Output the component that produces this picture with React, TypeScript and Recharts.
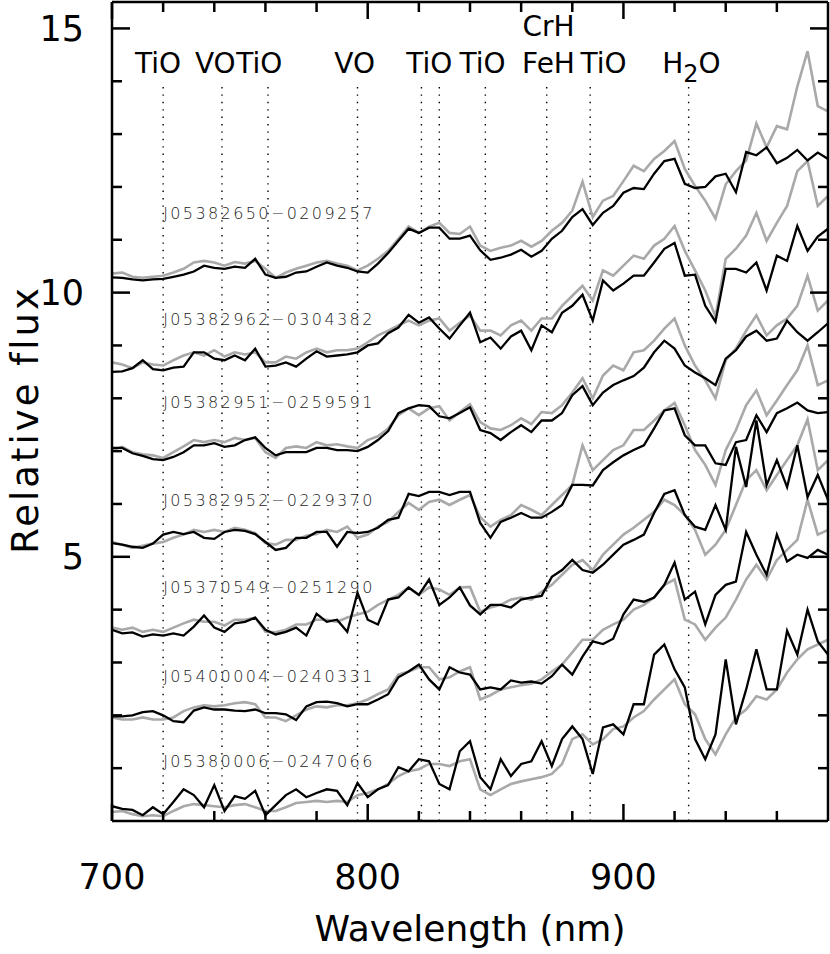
import React from 'react';
import { LineChart, Line, XAxis, YAxis, ReferenceLine, ReferenceDot } from 'recharts';

const FONT = '"DejaVu Sans", sans-serif';

const wavelengths = [
  700, 704, 708, 712, 716, 720, 724, 728, 732, 736,
  740, 744, 748, 752, 756, 760, 764, 768, 772, 776,
  780, 784, 788, 792, 796, 800, 804, 808, 812, 816,
  820, 824, 828, 832, 836, 840, 844, 848, 852, 856,
  860, 864, 868, 872, 876, 880, 884, 888, 892, 896,
  900, 904, 908, 912, 916, 920, 924, 928, 932, 936,
  940, 944, 948, 952, 956, 960, 964, 968, 972, 976, 980,
];

// J05382650-0209257
const s1Black = [
  10.29, 10.28, 10.25, 10.23, 10.25, 10.26, 10.30, 10.34, 10.40, 10.51,
  10.47, 10.45, 10.49, 10.47, 10.64, 10.34, 10.28, 10.30, 10.38, 10.40,
  10.49, 10.57, 10.51, 10.47, 10.40, 10.38, 10.55, 10.75, 10.98, 11.21,
  11.13, 11.23, 11.23, 11.02, 11.02, 11.08, 10.80, 10.62, 10.66, 10.72,
  10.81, 10.68, 10.79, 11.02, 11.17, 11.43, 11.58, 11.28, 11.51, 11.64,
  11.89, 11.98, 11.96, 12.25, 12.49, 12.53, 12.06, 11.98, 12.00, 12.20,
  12.25, 11.90, 12.66, 12.60, 12.75, 12.45, 12.55, 12.70, 12.50, 12.65, 12.53,
];
const s1Gray = [
  10.36, 10.38, 10.30, 10.28, 10.30, 10.32, 10.38, 10.45, 10.57, 10.60,
  10.57, 10.51, 10.58, 10.55, 10.60, 10.45, 10.28, 10.38, 10.45, 10.51,
  10.57, 10.60, 10.55, 10.51, 10.42, 10.51, 10.64, 10.79, 11.02, 11.25,
  11.13, 11.25, 11.32, 11.13, 11.11, 11.25, 10.89, 10.79, 10.85, 10.89,
  10.98, 10.87, 10.98, 11.17, 11.32, 11.55, 12.10, 11.43, 11.74, 11.83,
  12.11, 12.40, 12.30, 12.53, 12.68, 12.87, 12.34, 12.02, 11.74, 11.40,
  12.05, 12.30, 12.50, 13.20, 12.75, 13.15, 13.09, 13.90, 14.57, 13.53, 13.43,
];
// J05382962-0304382
const s2Black = [
  8.50, 8.51, 8.57, 8.72, 8.55, 8.53, 8.58, 8.60, 8.87, 8.87,
  8.75, 8.72, 8.81, 8.72, 8.94, 8.60, 8.62, 8.68, 8.60, 8.75,
  8.89, 8.79, 8.81, 8.83, 8.87, 9.00, 9.04, 9.23, 9.34, 9.58,
  9.43, 9.53, 9.32, 9.13, 9.38, 9.62, 9.06, 9.15, 8.94, 9.17,
  9.28, 8.91, 9.38, 9.25, 9.62, 9.75, 9.96, 9.47, 10.23, 10.04,
  10.17, 10.32, 10.32, 10.57, 10.83, 10.94, 10.32, 10.34, 9.75, 9.45,
  10.45, 10.45, 10.38, 10.57, 10.04, 10.70, 10.60, 11.26, 10.79, 11.06, 11.21,
];
const s2Gray = [
  8.68, 8.64, 8.57, 8.68, 8.64, 8.62, 8.72, 8.81, 8.87, 8.81,
  8.91, 8.79, 8.87, 8.83, 8.87, 8.68, 8.68, 8.79, 8.75, 8.87,
  8.94, 8.87, 8.91, 8.91, 8.94, 9.06, 9.19, 9.28, 9.38, 9.47,
  9.38, 9.47, 9.51, 9.28, 9.43, 9.57, 9.28, 9.28, 9.19, 9.38,
  9.47, 9.28, 9.51, 9.51, 9.75, 9.94, 10.13, 9.85, 10.42, 10.32,
  10.51, 10.70, 10.64, 10.89, 11.02, 11.26, 10.79, 10.42, 10.04, 9.55,
  10.64, 10.83, 11.08, 11.51, 10.98, 11.32, 11.64, 12.30, 12.49, 11.64, 11.83,
];
// J05382951-0259591
const s3Black = [
  7.06, 7.06, 6.96, 6.91, 6.85, 6.83, 6.89, 6.98, 7.11, 7.11,
  7.15, 7.08, 7.11, 7.21, 7.26, 7.06, 6.92, 6.98, 6.98, 6.98,
  7.06, 7.06, 7.02, 7.02, 7.00, 7.08, 7.21, 7.38, 7.72, 7.81,
  7.87, 7.85, 7.66, 7.62, 7.72, 7.83, 7.40, 7.34, 7.21, 7.36,
  7.49, 7.36, 7.58, 7.58, 7.72, 8.06, 8.23, 7.87, 8.11, 8.25,
  8.34, 8.42, 8.58, 8.87, 9.09, 8.94, 8.62, 8.49, 8.38, 8.25,
  8.75, 8.91, 9.17, 9.28, 9.09, 9.13, 9.47, 9.25, 9.09, 9.25, 9.42,
];
const s3Gray = [
  7.02, 7.08, 6.98, 6.94, 6.92, 6.87, 6.98, 7.09, 7.21, 7.17,
  7.21, 7.17, 7.25, 7.21, 7.25, 6.98, 6.87, 7.06, 7.09, 7.06,
  7.17, 7.11, 7.13, 7.09, 7.06, 7.21, 7.28, 7.43, 7.68, 7.81,
  7.68, 7.81, 7.85, 7.58, 7.74, 7.89, 7.55, 7.43, 7.40, 7.49,
  7.62, 7.51, 7.74, 7.72, 7.87, 8.11, 8.38, 8.00, 8.43, 8.62,
  8.53, 8.87, 8.91, 9.09, 9.32, 9.51, 9.00, 8.62, 8.34, 8.00,
  8.72, 8.94, 9.28, 9.57, 9.19, 9.38, 9.51, 9.75, 10.32, 9.66, 9.85,
];
// J05382952-0229370
const s4Black = [
  5.26, 5.23, 5.19, 5.17, 5.25, 5.42, 5.47, 5.43, 5.47, 5.36,
  5.34, 5.47, 5.51, 5.49, 5.43, 5.28, 5.13, 5.17, 5.36, 5.36,
  5.47, 5.47, 5.19, 5.47, 5.45, 5.47, 5.55, 5.70, 5.74, 6.19,
  6.15, 6.23, 6.23, 6.17, 6.23, 6.23, 5.64, 5.36, 5.66, 5.74,
  5.83, 5.74, 5.74, 5.85, 5.98, 6.36, 6.36, 6.35, 6.64, 6.79,
  6.92, 7.02, 7.11, 7.43, 7.77, 7.81, 7.30, 7.11, 7.11, 6.77,
  6.74, 7.17, 7.21, 7.68, 7.36, 7.72, 7.81, 7.92, 7.77, 7.72, 7.74,
];
const s4Gray = [
  5.28, 5.23, 5.17, 5.21, 5.25, 5.28, 5.36, 5.42, 5.51, 5.47,
  5.51, 5.47, 5.55, 5.51, 5.45, 5.26, 5.23, 5.32, 5.32, 5.40,
  5.43, 5.51, 5.47, 5.57, 5.36, 5.42, 5.57, 5.66, 5.85, 6.02,
  5.89, 6.04, 6.08, 5.98, 6.08, 6.17, 5.75, 5.57, 5.70, 5.79,
  5.98, 5.89, 5.79, 5.98, 6.17, 6.36, 7.11, 6.64, 6.83, 7.02,
  7.11, 7.40, 7.40, 7.58, 7.77, 7.91, 7.49, 7.02, 6.74, 6.36,
  7.02, 7.40, 7.87, 8.15, 7.68, 7.96, 8.25, 8.53, 9.00, 8.25, 8.34,
];
// J05370549-0251290
const s5Black = [
  3.62, 3.55, 3.57, 3.49, 3.53, 3.51, 3.55, 3.51, 3.68, 3.89,
  3.66, 3.58, 3.74, 3.77, 3.85, 3.62, 3.53, 3.58, 3.66, 3.51,
  3.92, 3.77, 3.81, 3.58, 4.32, 3.81, 3.72, 4.19, 4.23, 4.42,
  4.28, 4.57, 4.09, 4.23, 4.42, 4.08, 3.91, 4.09, 4.09, 4.04,
  4.19, 4.23, 4.26, 4.62, 4.75, 4.94, 4.75, 4.70, 4.85, 5.04,
  5.23, 5.32, 5.42, 5.83, 6.19, 6.26, 5.79, 5.57, 5.51, 5.98,
  5.51, 7.08, 6.32, 7.58, 6.36, 6.83, 6.32, 7.11, 6.13, 6.55, 6.08,
];
const s5Gray = [
  3.66, 3.62, 3.66, 3.58, 3.62, 3.58, 3.66, 3.74, 3.81, 3.77,
  3.77, 3.70, 3.81, 3.81, 3.85, 3.58, 3.57, 3.62, 3.72, 3.72,
  3.81, 3.81, 3.77, 3.85, 3.91, 3.96, 4.09, 4.19, 4.28, 4.42,
  4.28, 4.42, 4.38, 4.28, 4.42, 4.43, 3.96, 4.04, 4.09, 4.19,
  4.23, 4.19, 4.34, 4.47, 4.66, 4.85, 4.94, 4.75, 5.04, 5.23,
  5.42, 5.55, 5.70, 5.85, 6.08, 5.98, 5.79, 5.51, 5.04, 5.23,
  5.51, 5.98, 6.45, 6.64, 6.26, 6.55, 6.83, 7.11, 7.60, 6.64, 6.83,
];
// J05400004-0240331
const s6Black = [
  1.98, 1.98, 2.00, 2.06, 2.08, 2.00, 1.89, 1.87, 2.09, 2.15,
  2.11, 2.11, 2.09, 2.08, 2.11, 2.04, 2.04, 2.02, 1.91, 2.17,
  2.25, 2.26, 2.23, 2.17, 2.21, 2.21, 2.30, 2.40, 2.72, 2.83,
  2.96, 2.68, 2.49, 2.91, 2.81, 2.77, 2.49, 2.53, 2.49, 2.66,
  2.62, 2.64, 2.60, 2.74, 2.96, 2.77, 3.11, 3.40, 3.35, 3.45,
  3.91, 4.19, 4.15, 4.23, 4.47, 4.89, 4.19, 4.34, 3.72, 4.28,
  4.47, 4.53, 5.47, 5.04, 4.66, 5.42, 4.91, 5.04, 4.98, 5.13, 5.04,
];
const s6Gray = [
  1.96, 1.92, 1.92, 1.96, 1.92, 1.92, 1.96, 2.08, 2.15, 2.19,
  2.17, 2.19, 2.23, 2.25, 2.21, 1.96, 1.96, 1.89, 2.00, 2.11,
  2.17, 2.15, 2.19, 2.19, 2.23, 2.30, 2.40, 2.49, 2.77, 2.83,
  2.91, 2.91, 2.68, 2.72, 2.83, 2.91, 2.30, 2.38, 2.49, 2.53,
  2.57, 2.60, 2.68, 2.83, 2.96, 3.19, 3.43, 3.43, 3.62, 3.72,
  3.81, 4.00, 4.09, 4.23, 4.47, 4.57, 3.81, 3.72, 3.43, 3.66,
  3.85, 4.19, 4.57, 4.85, 4.57, 4.94, 5.13, 5.32, 6.08, 5.42, 5.51,
];
// J05380006-0247066
const s7Black = [
  0.28, 0.23, 0.21, 0.11, 0.26, 0.13, 0.36, 0.60, 0.49, 0.26,
  0.68, 0.19, 0.47, 0.42, 0.57, 0.11, 0.30, 0.49, 0.60, 0.45,
  0.53, 0.60, 0.57, 0.30, 0.72, 0.45, 0.60, 0.68, 1.02, 0.94,
  1.17, 1.13, 0.70, 0.60, 1.32, 1.51, 0.83, 0.60, 1.17, 0.85,
  1.08, 1.13, 1.51, 1.04, 1.55, 1.79, 1.55, 0.89, 1.77, 1.83,
  1.64, 2.21, 2.21, 3.15, 3.34, 2.87, 2.53, 1.55, 1.17, 1.64,
  3.06, 1.83, 2.49, 3.25, 2.49, 2.49, 3.60, 3.15, 4.00, 3.40, 3.15,
];
const s7Gray = [
  0.17, 0.19, 0.13, 0.09, 0.11, 0.09, 0.19, 0.28, 0.32, 0.30,
  0.28, 0.26, 0.30, 0.32, 0.26, 0.19, 0.19, 0.26, 0.34, 0.36,
  0.38, 0.36, 0.38, 0.36, 0.49, 0.53, 0.60, 0.70, 0.85, 0.94,
  0.98, 1.08, 1.08, 1.04, 1.13, 1.17, 0.60, 0.49, 0.60, 0.70,
  0.75, 0.79, 0.83, 0.89, 1.08, 1.55, 1.64, 1.45, 1.55, 1.74,
  1.79, 1.96, 2.08, 2.30, 2.49, 2.68, 2.21, 2.02, 1.55, 1.26,
  1.64, 1.96, 2.11, 2.36, 2.30, 2.49, 2.81, 3.06, 3.25, 3.34, 3.43,
];

const starNames = [
  'J05382650\u22120209257',
  'J05382962\u22120304382',
  'J05382951\u22120259591',
  'J05382952\u22120229370',
  'J05370549\u22120251290',
  'J05400004\u22120240331',
  'J05380006\u22120247066',
];
const starLabelLevels = [11.5, 9.5, 7.92, 6.08, 4.42, 2.74, 1.13];
const blackSeries = [s1Black, s2Black, s3Black, s4Black, s5Black, s6Black, s7Black];
const graySeries = [s1Gray, s2Gray, s3Gray, s4Gray, s5Gray, s6Gray, s7Gray];

// molecular band markers (nm)
const bandLines = [720, 743, 761, 796, 821, 828, 846, 870, 887, 925.5];
const bandLabels = ['TiO', 'VO', 'TiO', 'VO', 'TiO', 'TiO', 'CrH', 'FeH', 'TiO', 'H2O'];
const bandLabelAt = [718, 740.4, 757.6, 794.9, 824.1, 844.9, 870.7, 870.7, 892.2, 926.6];
const bandLabelLevel = [14.15, 14.15, 14.15, 14.15, 14.15, 14.15, 14.85, 14.15, 14.15, 14.15];

const xTicks = [700, 720, 740, 760, 780, 800, 820, 840, 860, 880, 900, 920, 940, 960];
const yTicks = [1, 2, 3, 4, 5, 6, 7, 8, 9, 10, 11, 12, 13, 14, 15];

const rows = wavelengths.map((wl, i) => {
  const r: Record<string, number> = { wl };
  blackSeries.forEach((s, k) => { r[`b${k}`] = s[i]; });
  graySeries.forEach((s, k) => { r[`g${k}`] = s[i]; });
  return r;
});

const AX = { stroke: '#000', strokeWidth: 2.5 };

const BottomTick = (p: any) => {
  const major = p.payload.value % 100 === 0;
  return (
    <g>
      <line x1={p.x} x2={p.x} y1={p.y} y2={p.y - (major ? 17 : 10)} stroke="#000" strokeWidth={2.5} />
      {major && (
        <text x={p.x} y={p.y + 68} textAnchor="middle" fontSize={35} fontFamily={FONT} fill="#000">
          {p.payload.value}
        </text>
      )}
    </g>
  );
};
const TopTick = (p: any) => {
  const major = p.payload.value % 100 === 0;
  return <line x1={p.x} x2={p.x} y1={p.y} y2={p.y + (major ? 17 : 10)} stroke="#000" strokeWidth={2.5} />;
};
const LeftTick = (p: any) => {
  const major = p.payload.value % 5 === 0;
  return (
    <g>
      <line x1={p.x} x2={p.x + (major ? 18 : 10)} y1={p.y} y2={p.y} stroke="#000" strokeWidth={2.5} />
      {major && (
        <text x={p.x - 28} y={p.y} dy="0.36em" textAnchor="end" fontSize={35} fontFamily={FONT} fill="#000">
          {p.payload.value}
        </text>
      )}
    </g>
  );
};
const RightTick = (p: any) => {
  const major = p.payload.value % 5 === 0;
  return <line x1={p.x} x2={p.x - (major ? 18 : 10)} y1={p.y} y2={p.y} stroke="#000" strokeWidth={2.5} />;
};

const bandLabelShape = (label: string) => (p: any) => {
  if (label === 'H2O') {
    return (
      <text x={p.cx} y={p.cy} textAnchor="middle" fontSize={28} fontFamily={FONT} fill="#000">
        <tspan>H</tspan>
        <tspan dy={9} fontSize={24}>2</tspan>
        <tspan dy={-9}>O</tspan>
      </text>
    );
  }
  return (
    <text x={p.cx} y={p.cy} textAnchor="middle" fontSize={28} fontFamily={FONT} fill="#000">
      {label}
    </text>
  );
};

const starLabelShape = (name: string) => (p: any) => (
  <text x={p.cx} y={p.cy} dy="0.36em" fontSize={16} fontWeight={200} letterSpacing={2.4} fontFamily={FONT} fill="#1a1a1a">
    {name}
  </text>
);

export default function App() {
  return (
    <div style={{ position: 'absolute', left: 0, top: 0, width: 830, height: 954, background: '#fff', fontFamily: FONT }}>
      <LineChart width={830} height={954} data={rows} margin={{ top: 1, right: 1, bottom: 0, left: 0 }}>
        <XAxis
          dataKey="wl"
          type="number"
          domain={[700, 980]}
          allowDataOverflow
          ticks={xTicks}
          interval={0}
          height={133}
          axisLine={AX}
          tickLine={false}
          tickSize={0}
          tickMargin={0}
          tick={BottomTick}
          label={{ value: 'Wavelength (nm)', position: 'insideBottom', offset: 13, fontSize: 36, fill: '#000' }}
        />
        <XAxis
          xAxisId="top"
          orientation="top"
          dataKey="wl"
          type="number"
          domain={[700, 980]}
          allowDataOverflow
          ticks={xTicks}
          interval={0}
          height={1}
          axisLine={AX}
          tickLine={false}
          tickSize={0}
          tickMargin={0}
          tick={TopTick}
        />
        <YAxis
          type="number"
          domain={[0, 15.5]}
          allowDataOverflow
          ticks={yTicks}
          interval={0}
          width={112}
          axisLine={AX}
          tickLine={false}
          tickSize={0}
          tickMargin={0}
          tick={LeftTick}
          label={{ value: 'Relative flux', angle: -90, position: 'center', dx: -31, dy: 8, fontSize: 37, letterSpacing: 3, fill: '#000' }}
        />
        <YAxis
          yAxisId="right"
          orientation="right"
          type="number"
          domain={[0, 15.5]}
          allowDataOverflow
          ticks={yTicks}
          interval={0}
          width={1}
          axisLine={AX}
          tickLine={false}
          tickSize={0}
          tickMargin={0}
          tick={RightTick}
        />
        {bandLines.map((w, i) => (
          <ReferenceLine
            key={`bl${i}`}
            segment={[{ x: w, y: 0 }, { x: w, y: 14 }]}
            stroke="#000"
            strokeWidth={1.4}
            strokeDasharray="1.4 6"
          />
        ))}
        {bandLabels.map((lab, i) => (
          <ReferenceDot
            key={`lab${i}`}
            x={bandLabelAt[i]}
            y={bandLabelLevel[i]}
            r={0}
            shape={bandLabelShape(lab)}
          />
        ))}
        {starNames.map((n, i) => (
          <ReferenceDot key={`sn${i}`} x={720} y={starLabelLevels[i]} r={0} shape={starLabelShape(n)} />
        ))}
        {graySeries.map((_, k) => (
          <Line
            key={`g${k}`}
            dataKey={`g${k}`}
            stroke="#a9a9a9"
            strokeWidth={2.6}
            dot={false}
            activeDot={false}
            isAnimationActive={false}
          />
        ))}
        {blackSeries.map((_, k) => (
          <Line
            key={`b${k}`}
            dataKey={`b${k}`}
            stroke="#000"
            strokeWidth={2.3}
            dot={false}
            activeDot={false}
            isAnimationActive={false}
          />
        ))}
      </LineChart>
    </div>
  );
}
